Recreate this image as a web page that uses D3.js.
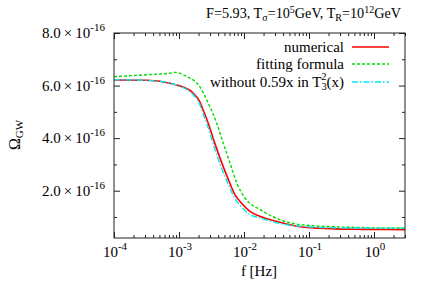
<!DOCTYPE html>
<html><head><meta charset="utf-8">
<script src="https://cdn.jsdelivr.net/npm/d3@7"></script>
<style>
body{margin:0;background:#fff;}
svg{display:block;}
text{font-family:"Liberation Serif","DejaVu Serif",serif;fill:#000;}
</style></head>
<body><svg id="c" width="430" height="282"></svg>
<script>
// ---- data ----
const logF = [-4, -3.5, -3.14, -3.05, -2.93, -2.78, -2.68, -2.65, -2.55, -2.45, -2.34, -2.24, -2.14, -2.04, -1.91, -1.75, -1.45, -1.14, -0.68, -0.2, 0.477];
const numerical = [6.21e-16, 6.20e-16, 6.09e-16, 6.03e-16, 5.94e-16, 5.71e-16, 5.38e-16, 5.20e-16, 4.57e-16, 3.81e-16, 3.05e-16, 2.42e-16, 1.85e-16, 1.53e-16, 1.21e-16, 1.02e-16, 0.80e-16, 0.63e-16, 0.556e-16, 0.53e-16, 0.52e-16];
const logFfit = [-4, -3.5, -3.14, -3.05, -2.88, -2.68, -2.55, -2.42, -2.32, -2.215, -2.11, -1.985, -1.75, -1.45, -1.14, -0.52, 0, 0.477];
const fitting = [6.34e-16, 6.41e-16, 6.47e-16, 6.50e-16, 6.34e-16, 5.96e-16, 5.33e-16, 4.57e-16, 3.81e-16, 3.05e-16, 2.29e-16, 1.72e-16, 1.28e-16, 0.90e-16, 0.71e-16, 0.62e-16, 0.59e-16, 0.575e-16];
const without = [6.22e-16, 6.20e-16, 6.10e-16, 6.03e-16, 5.91e-16, 5.65e-16, 5.28e-16, 5.08e-16, 4.39e-16, 3.59e-16, 2.83e-16, 2.23e-16, 1.70e-16, 1.39e-16, 1.09e-16, 0.96e-16, 0.75e-16, 0.65e-16, 0.59e-16, 0.58e-16, 0.575e-16];
const yTicks = [2e-16, 4e-16, 6e-16, 8e-16];
const yTickMant = ["2.0", "4.0", "6.0", "8.0"];
const yMinor = [1e-16, 3e-16, 5e-16, 7e-16];
const xExp = [-4, -3, -2, -1, 0];
const seriesNames = ["numerical", "fitting formula", "without 0.59x in T"];
const colors = ["#ff0000", "#00dd00", "#00e8f0"];

// ---- layout ----
const L = 114, R = 405, T = 33, B = 238;
const svg = d3.select("#c");
const x = d3.scaleLog().domain([1e-4, 3]).range([L, R]);
const y = d3.scaleLinear().domain([0.2e-16, 8e-16]).range([B, T]);

// minor x ticks
const xMinor = [];
for (let e = -4; e <= 0; e++) for (let m = 2; m <= 9; m++) { const v = m * Math.pow(10, e); if (v <= 3) xMinor.push(v); }
const xMajor = xExp.map(e => Math.pow(10, e));

const axisColor = "#222";
function styleAxis(g){ g.select(".domain").remove(); g.selectAll("line").attr("stroke", axisColor).attr("stroke-width", 1); g.selectAll("text").remove(); }

svg.append("g").attr("transform", `translate(0,${B})`).call(d3.axisBottom(x).tickValues(xMajor).tickSize(-6)).call(styleAxis);
svg.append("g").attr("transform", `translate(0,${B})`).call(d3.axisBottom(x).tickValues(xMinor).tickSize(-3)).call(styleAxis);
svg.append("g").attr("transform", `translate(0,${T})`).call(d3.axisTop(x).tickValues(xMajor).tickSize(-6)).call(styleAxis);
svg.append("g").attr("transform", `translate(0,${T})`).call(d3.axisTop(x).tickValues(xMinor).tickSize(-3)).call(styleAxis);
svg.append("g").attr("transform", `translate(${L},0)`).call(d3.axisLeft(y).tickValues(yTicks).tickSize(-6)).call(styleAxis);
svg.append("g").attr("transform", `translate(${L},0)`).call(d3.axisLeft(y).tickValues(yMinor).tickSize(-3)).call(styleAxis);
svg.append("g").attr("transform", `translate(${R},0)`).call(d3.axisRight(y).tickValues(yTicks).tickSize(-6)).call(styleAxis);
svg.append("g").attr("transform", `translate(${R},0)`).call(d3.axisRight(y).tickValues(yMinor).tickSize(-3)).call(styleAxis);

// curves
svg.append("clipPath").attr("id", "cp").append("rect").attr("x", L).attr("y", T).attr("width", R - L).attr("height", B - T);
const line = d3.line().curve(d3.curveMonotoneX);
const mk = (lf, vals) => lf.map((l, i) => [x(Math.pow(10, l)), y(vals[i])]);
const styles = [
  {w: 1.6, dash: null},
  {w: 1.4, dash: "3,2"},
  {w: 1.4, dash: "6,2,1.5,2"}
];
const data = [mk(logF, numerical), mk(logFfit, fitting), mk(logF, without)];
data.forEach((d, i) => {
  svg.append("path").attr("d", line(d)).attr("fill", "none").attr("stroke", colors[i])
    .attr("stroke-width", styles[i].w).attr("stroke-dasharray", styles[i].dash).attr("clip-path", "url(#cp)");
});

// frame
svg.append("rect").attr("x", L).attr("y", T).attr("width", R - L).attr("height", B - T)
  .attr("fill", "none").attr("stroke", axisColor).attr("stroke-width", 1);

// y tick labels
yTicks.forEach((v, i) => {
  const t = svg.append("text").attr("x", 105).attr("y", y(v) + 5).attr("text-anchor", "end").attr("font-size", 15);
  t.append("tspan").text(yTickMant[i] + "\u2009\u00d7\u200910");
  t.append("tspan").attr("dy", -7).attr("font-size", 11).text("-16");
});
// x tick labels
xExp.forEach(e => {
  const t = svg.append("text").attr("x", x(Math.pow(10, e)) + 1).attr("y", 257).attr("text-anchor", "middle").attr("font-size", 15);
  t.append("tspan").text("10");
  t.append("tspan").attr("dy", -7).attr("font-size", 11).text(String(e));
});
// axis titles
svg.append("text").attr("x", 259).attr("y", 276).attr("text-anchor", "middle").attr("font-size", 15).text("f [Hz]");
const yl = svg.append("text").attr("transform", "translate(20,135) rotate(-90)").attr("text-anchor", "middle").attr("font-size", 16);
yl.append("tspan").text("\u03a9");
yl.append("tspan").attr("dy", 3).attr("font-size", 11).text("GW");

// title
const tt = svg.append("text").attr("x", 401).attr("y", 18).attr("text-anchor", "end").attr("font-size", 14.2);
tt.append("tspan").text("F=5.93, T");
tt.append("tspan").attr("dy", 3).attr("font-size", 10).text("\u03c3");
tt.append("tspan").attr("dy", -3).text("=10");
tt.append("tspan").attr("dy", -5).attr("font-size", 10).text("5");
tt.append("tspan").attr("dy", 5).text("GeV, T");
tt.append("tspan").attr("dy", 3).attr("font-size", 10).text("R");
tt.append("tspan").attr("dy", -3).text("=10");
tt.append("tspan").attr("dy", -5).attr("font-size", 10).text("12");
tt.append("tspan").attr("dy", 5).text("GeV");

// legend
const legY = [47, 64, 82];
seriesNames.forEach((name, i) => {
  const t = svg.append("text").attr("x", 344).attr("y", legY[i] + 4.5).attr("text-anchor", "end").attr("font-size", 15);
  t.append("tspan").text(name);
  if (i === 2) {
    t.append("tspan").attr("dy", 3).attr("font-size", 10.5).text("3");
    t.append("tspan").attr("dx", -5.5).attr("dy", -10).attr("font-size", 10.5).text("2");
    t.append("tspan").attr("dy", 7).text("(x)");
  }
  svg.append("line").attr("x1", 352).attr("x2", 389).attr("y1", legY[i]).attr("y2", legY[i])
    .attr("stroke", colors[i]).attr("stroke-width", styles[i].w).attr("stroke-dasharray", styles[i].dash);
});
</script></body></html>
